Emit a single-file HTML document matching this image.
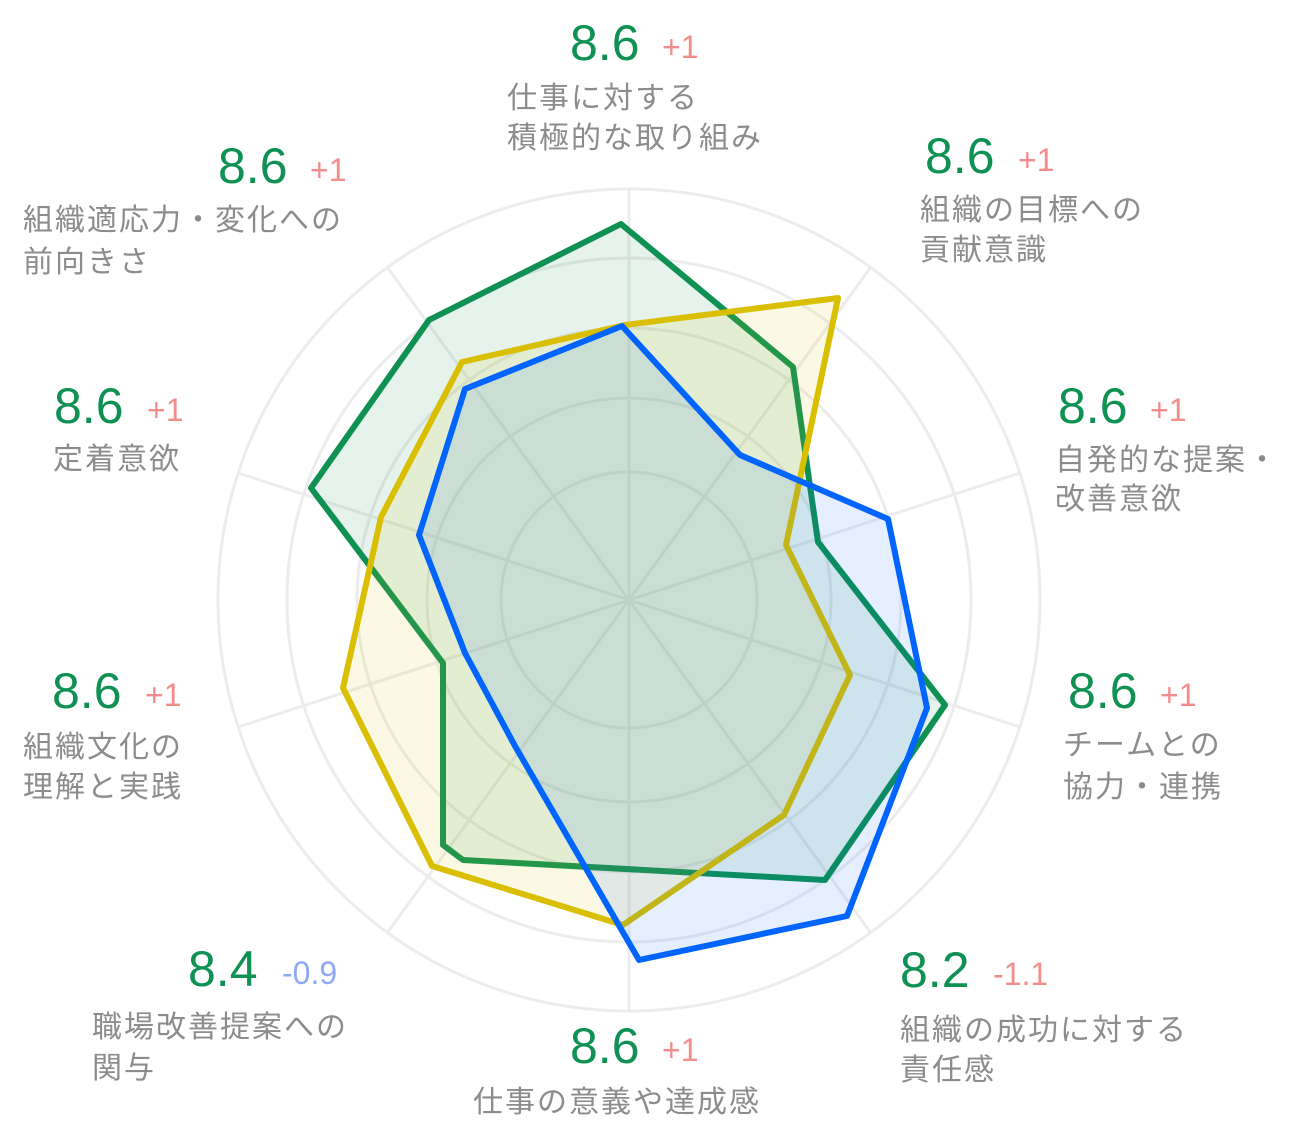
<!DOCTYPE html>
<html><head><meta charset="utf-8"><style>
html,body{margin:0;padding:0;background:#fff;}
svg{display:block;}
.v{font-family:"Liberation Sans",sans-serif;font-size:50px;fill:#0e9153;}
.d{font-family:"Liberation Sans",sans-serif;font-size:32px;fill:#f58c8c;}
.l{font-family:"Liberation Sans","Noto Sans CJK JP",sans-serif;font-size:30px;fill:#8c8c8c;letter-spacing:2px;}
</style></head><body>
<svg width="1290" height="1139" viewBox="0 0 1290 1139">
<g fill="none" stroke="#ececec" stroke-width="3">
<circle cx="629" cy="600" r="411"/>
<circle cx="629" cy="600" r="342"/>
<circle cx="629" cy="600" r="272"/>
<circle cx="629" cy="600" r="202"/>
<circle cx="629" cy="600" r="128"/>
<g transform="translate(629,600)">
<line x1="0" y1="0" x2="0" y2="-411"/>
<line x1="0" y1="0" x2="0" y2="-411" transform="rotate(36)"/>
<line x1="0" y1="0" x2="0" y2="-411" transform="rotate(72)"/>
<line x1="0" y1="0" x2="0" y2="-411" transform="rotate(108)"/>
<line x1="0" y1="0" x2="0" y2="-411" transform="rotate(144)"/>
<line x1="0" y1="0" x2="0" y2="-411" transform="rotate(180)"/>
<line x1="0" y1="0" x2="0" y2="-411" transform="rotate(216)"/>
<line x1="0" y1="0" x2="0" y2="-411" transform="rotate(252)"/>
<line x1="0" y1="0" x2="0" y2="-411" transform="rotate(288)"/>
<line x1="0" y1="0" x2="0" y2="-411" transform="rotate(324)"/>
</g></g>
<g stroke-width="6" stroke-linejoin="round">
<polygon points="621,224 793,367 818,542 945,705 825,880 463,860 443,845 443,663 311,488 429,320" fill="#0e9153" fill-opacity="0.11" stroke="#0e9153"/>
<polygon points="625,325 838,298 786,545 850,675 784,815 623,925 432,866 343,688 381,517 462,362" fill="#d9bf00" fill-opacity="0.11" stroke="#d9bf00"/>
<polygon points="622,326 740,455 888,519 927,708 847,916 639,960 515,746 465,653 419,535 465,389" fill="#0064ff" fill-opacity="0.1" stroke="#0064ff"/>
</g>
<text class="v" x="570" y="60">8.6</text><text class="d" x="662" y="58">+1</text>
<text class="l" x="507" y="108">仕事に対する</text><text class="l" x="507" y="148">積極的な取り組み</text>
<text class="v" x="925" y="173">8.6</text><text class="d" x="1018" y="171">+1</text>
<text class="l" x="920" y="220">組織の目標への</text><text class="l" x="920" y="260">貢献意識</text>
<text class="v" x="1058" y="423">8.6</text><text class="d" x="1150" y="421">+1</text>
<text class="l" x="1055" y="470">自発的な提案・</text><text class="l" x="1055" y="509">改善意欲</text>
<text class="v" x="1068" y="708">8.6</text><text class="d" x="1160" y="706">+1</text>
<text class="l" x="1063" y="755">チームとの</text><text class="l" x="1063" y="797">協力・連携</text>
<text class="v" x="900" y="987">8.2</text><text class="d" x="993" y="985">-1.1</text>
<text class="l" x="900" y="1040">組織の成功に対する</text><text class="l" x="900" y="1080">責任感</text>
<text class="v" x="570" y="1063">8.6</text><text class="d" x="662" y="1061">+1</text>
<text class="l" x="473" y="1112">仕事の意義や達成感</text>
<text class="v" x="188" y="986">8.4</text><text class="d" x="282" y="984" style="fill:#8fa8f8">-0.9</text>
<text class="l" x="92" y="1037">職場改善提案への</text><text class="l" x="92" y="1078">関与</text>
<text class="v" x="52" y="708">8.6</text><text class="d" x="145" y="706">+1</text>
<text class="l" x="23" y="757">組織文化の</text><text class="l" x="23" y="797">理解と実践</text>
<text class="v" x="54" y="423">8.6</text><text class="d" x="147" y="421">+1</text>
<text class="l" x="53" y="469">定着意欲</text>
<text class="v" x="218" y="183">8.6</text><text class="d" x="310" y="181">+1</text>
<text class="l" x="23" y="230">組織適応力・変化への</text><text class="l" x="23" y="272">前向きさ</text>
</svg>
</body></html>
